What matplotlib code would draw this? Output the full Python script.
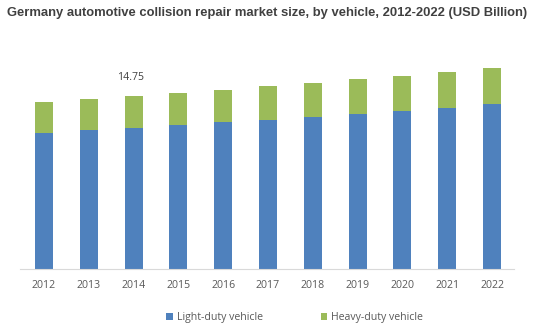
import matplotlib
matplotlib.use("Agg")
import matplotlib.pyplot as plt
from matplotlib.patches import Patch

years = ["2012", "2013", "2014", "2015", "2016", "2017", "2018", "2019", "2020", "2021", "2022"]
light_duty = [11.63, 11.86, 12.05, 12.31, 12.54, 12.72, 12.96, 13.22, 13.47, 13.73, 14.07]
heavy_duty = [2.61, 2.63, 2.70, 2.70, 2.74, 2.88, 2.90, 2.98, 2.99, 3.06, 3.07]
series_names = ["Light-duty vehicle", "Heavy-duty vehicle"]
labelled_year = "2014"

blue = "#4F81BD"
green = "#9BBB59"
text_gray = "#595959"

W, H = 537, 333
fig = plt.figure(figsize=(W / 100, H / 100), dpi=100)
ax = fig.add_axes([20 / W, 1 - 269.3 / H, (514 - 20) / W, (269.3 - 50) / H])

x = list(range(len(years)))
ax.bar(x, light_duty, width=0.4, color=blue, zorder=2)
ax.bar(x, heavy_duty, width=0.4, bottom=light_duty, color=green, zorder=2)

# value label above the highlighted year
i = years.index(labelled_year)
total = light_duty[i] + heavy_duty[i]
ax.annotate(f"{total:.2f}", (x[i], total), xytext=(-2, 13), textcoords="offset points",
            ha="center", va="center", fontsize=7.6, family="Open Sans", color="#404040")

ax.set_xlim(-0.536, 10.49)
ax.set_ylim(0, (269.3 - 50) / 11.75)
ax.set_xticks(x)
ax.set_xticklabels(years, family="Open Sans", fontsize=7.6, color=text_gray)
ax.tick_params(axis="x", length=0, pad=8)
ax.set_yticks([])
for side in ["left", "right", "top"]:
    ax.spines[side].set_visible(False)
ax.spines["bottom"].set_color("#D9D9D9")
ax.spines["bottom"].set_linewidth(0.8)

fig.text(7 / W, 1 - 13 / H, "Germany automotive collision repair market size, by vehicle, 2012-2022 (USD Billion)",
         family="Liberation Sans", fontweight="bold", fontsize=9.4, color="#404040",
         ha="left", va="center")

handles = [Patch(facecolor=blue), Patch(facecolor=green)]
fig.legend(handles, series_names, loc="center", bbox_to_anchor=(294.5 / W, 1 - 317.7 / H),
           ncol=2, frameon=False, handlelength=0.65, handleheight=0.65, handletextpad=0.35,
           columnspacing=5.5, prop={"family": "Open Sans", "size": 7.6},
           labelcolor=text_gray)

fig.savefig("out.png", dpi=100)
